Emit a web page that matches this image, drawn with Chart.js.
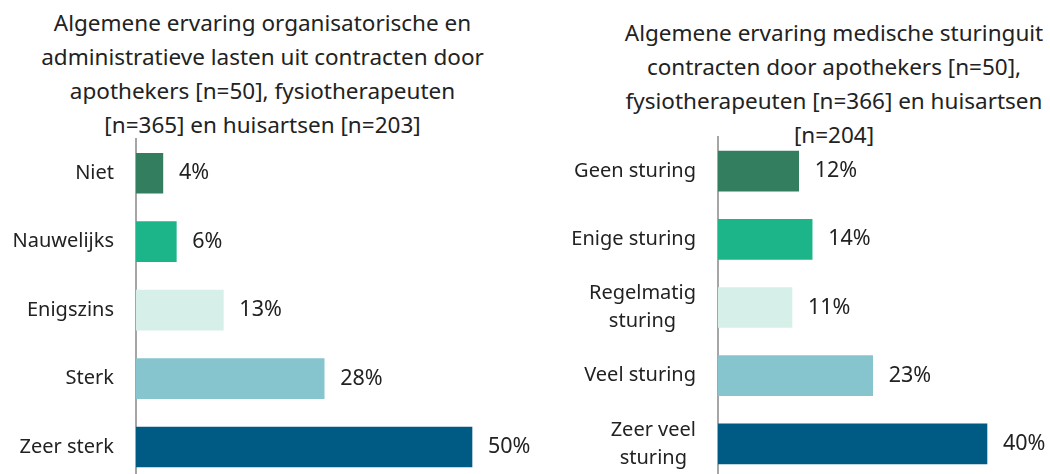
<!DOCTYPE html>
<html>
<head>
<meta charset="utf-8">
<script src="https://cdn.jsdelivr.net/npm/chart.js@4.4.1/dist/chart.umd.min.js"></script>
<style>
  body { margin: 0; width: 1050px; height: 474px; overflow: hidden; background: #fff; position: relative; font-family: "Noto Sans", sans-serif; }
  .title { position: absolute; text-align: center; font-size: 22.5px; line-height: 34px; color: #222; white-space: nowrap; }
  canvas { position: absolute; top: 0; }
</style>
</head>
<body>
<div id="leftTitle" class="title" style="left:0; top:6px; width:525px;"></div>
<div id="rightTitle" class="title" style="left:572px; top:16px; width:524px;"></div>
<canvas id="leftChart" width="570" height="490" style="left:0"></canvas>
<canvas id="rightChart" width="525" height="490" style="left:525px"></canvas>
<script>
const leftTitleLines = ['Algemene ervaring organisatorische en', 'administratieve lasten uit contracten door', 'apothekers [n=50], fysiotherapeuten', '[n=365] en huisartsen [n=203]'];
const rightTitleLines = ['Algemene ervaring medische sturinguit', 'contracten door apothekers [n=50],', 'fysiotherapeuten [n=366] en huisartsen', '[n=204]'];

const leftCategories = ['Niet', 'Nauwelijks', 'Enigszins', 'Sterk', 'Zeer sterk'];
const leftValues = [4, 6, 13, 28, 50];

const rightCategories = ['Geen sturing', 'Enige sturing', ['Regelmatig', 'sturing'], 'Veel sturing', ['Zeer veel', 'sturing']];
const rightValues = [12, 14, 11, 23, 40];

const barColors = ['#337e5f', '#1cb58a', '#d6f0e9', '#86c4ce', '#005b84'];

document.getElementById('leftTitle').innerHTML = leftTitleLines.join('<br>');
document.getElementById('rightTitle').innerHTML = rightTitleLines.join('<br>');

const FONT = '"Noto Sans", sans-serif';

// value labels at the end of each bar
const valueLabels = {
    id: 'valueLabels',
    afterDatasetsDraw(chart) {
        const ctx = chart.ctx;
        const meta = chart.getDatasetMeta(0);
        ctx.save();
        ctx.font = '21.5px ' + FONT;
        ctx.fillStyle = '#222';
        ctx.textAlign = 'left';
        ctx.textBaseline = 'middle';
        meta.data.forEach((bar, i) => {
            ctx.fillText(chart.data.datasets[0].data[i] + '%', bar.x + 16, bar.y);
        });
        ctx.restore();
    }
};

// category labels: block right aligned, lines centred inside the block
const categoryLabels = {
    id: 'categoryLabels',
    afterDraw(chart) {
        const ctx = chart.ctx;
        const yScale = chart.scales.y;
        const right = chart.chartArea.left - 22;
        const lineH = 28;
        ctx.save();
        ctx.font = '20px ' + FONT;
        ctx.fillStyle = '#222';
        ctx.textAlign = 'center';
        ctx.textBaseline = 'middle';
        chart.data.labels.forEach((lab, i) => {
            const lines = Array.isArray(lab) ? lab : [lab];
            const w = Math.max(...lines.map(l => ctx.measureText(l).width));
            const cx = right - w / 2;
            const y0 = yScale.getPixelForTick(i) - (lines.length - 1) * lineH / 2;
            lines.forEach((l, j) => ctx.fillText(l, cx, y0 + j * lineH));
        });
        ctx.restore();
    }
};

function makeChart(id, labels, values, axisWidth, xMax, pad) {
    return new Chart(document.getElementById(id).getContext('2d'), {
        type: 'bar',
        data: {
            labels: labels,
            datasets: [{
                data: values,
                backgroundColor: barColors,
                barThickness: 40
            }]
        },
        options: {
            indexAxis: 'y',
            responsive: false,
            animation: false,
            layout: { padding: pad },
            plugins: { legend: { display: false }, tooltip: { enabled: false } },
            scales: {
                x: { display: false, min: 0, max: xMax },
                y: {
                    grid: { display: false, drawTicks: false },
                    border: { display: true, color: '#a6a6a6', width: 2 },
                    ticks: { display: false },
                    afterFit(scale) { scale.width = axisWidth; }
                }
            }
        },
        plugins: [valueLabels, categoryLabels]
    });
}

makeChart('leftChart', leftCategories, leftValues, 136, 55, { top: 139, bottom: 8.75, right: 64.4, left: 0 });
makeChart('rightChart', rightCategories, rightValues, 193, 45, { top: 137, bottom: 12, right: 29.4, left: 0 });
</script>
</body>
</html>
